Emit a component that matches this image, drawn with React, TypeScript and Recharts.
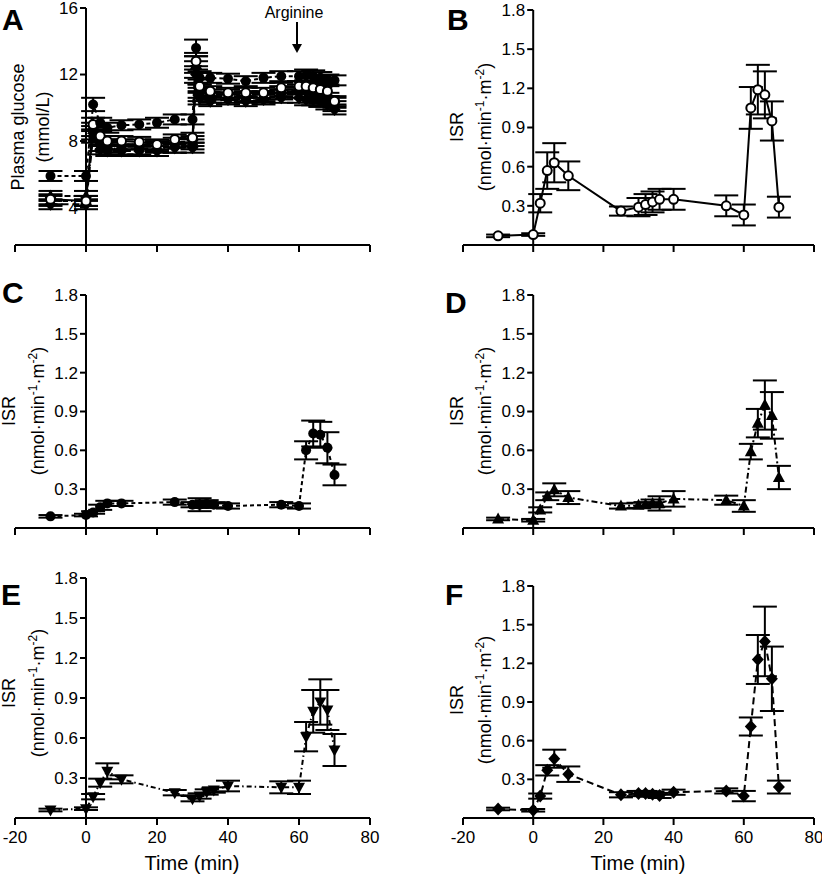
import {
  Customized,
  ErrorBar,
  Line,
  LineChart,
  ReferenceLine,
  XAxis,
  YAxis,
} from "recharts";

const FONT = '"Liberation Sans", Arial, Helvetica, sans-serif';

// ISR sampling times (min)
const isrTime = [-10, 0, 2, 4, 6, 10, 25, 30, 32, 34, 36, 40, 55, 60, 62, 64, 66, 68, 70];

const isrB = [0.07, 0.08, 0.32, 0.57, 0.63, 0.53, 0.26, 0.29, 0.31, 0.33, 0.35, 0.35, 0.3, 0.23, 1.05, 1.19, 1.15, 0.95, 0.29];
const errB = [0.01, 0.01, 0.07, 0.14, 0.15, 0.11, 0.035, 0.07, 0.08, 0.08, 0.08, 0.08, 0.08, 0.08, 0.16, 0.19, 0.18, 0.15, 0.08];

const isrC = [0.09, 0.1, 0.12, 0.16, 0.19, 0.19, 0.2, 0.18, 0.18, 0.185, 0.18, 0.17, 0.18, 0.17, 0.6, 0.73, 0.72, 0.62, 0.41];
const errC = [0.01, 0.01, 0.01, 0.02, 0.02, 0.02, 0.02, 0.02, 0.05, 0.03, 0.02, 0.02, 0.02, 0.02, 0.07, 0.1, 0.1, 0.12, 0.08];

const isrD = [0.07, 0.06, 0.14, 0.245, 0.295, 0.235, 0.17, 0.175, 0.18, 0.19, 0.19, 0.225, 0.215, 0.17, 0.59, 0.81, 0.95, 0.87, 0.39];
const errD = [0.01, 0.01, 0.02, 0.03, 0.05, 0.05, 0.02, 0.02, 0.02, 0.03, 0.055, 0.06, 0.035, 0.045, 0.06, 0.11, 0.19, 0.18, 0.09];

const isrE = [0.06, 0.07, 0.16, 0.265, 0.35, 0.29, 0.19, 0.145, 0.165, 0.195, 0.21, 0.24, 0.23, 0.23, 0.61, 0.8, 0.87, 0.81, 0.51];
const errE = [0.01, 0.01, 0.02, 0.03, 0.06, 0.03, 0.02, 0.02, 0.02, 0.02, 0.02, 0.04, 0.045, 0.05, 0.11, 0.16, 0.17, 0.15, 0.12];

const isrF = [0.07, 0.06, 0.17, 0.37, 0.46, 0.34, 0.18, 0.19, 0.19, 0.185, 0.175, 0.2, 0.21, 0.17, 0.71, 1.23, 1.37, 1.08, 0.24];
const errF = [0.01, 0.01, 0.02, 0.04, 0.07, 0.06, 0.02, 0.02, 0.02, 0.02, 0.02, 0.02, 0.02, 0.04, 0.07, 0.19, 0.27, 0.25, 0.05];

// plasma glucose (mmol/L)
const glucTime = [-10, 0, 2, 4, 6, 10, 15, 20, 25, 30, 31, 32, 35, 40, 45, 50, 55, 60, 62, 64, 66, 68, 70];
const glucC = [5.9, 5.9, 10.2, 9.1, 8.8, 8.95, 9.0, 9.1, 9.3, 9.3, 13.6, 11.8, 11.8, 11.75, 11.6, 11.8, 11.9, 11.9, 11.95, 11.9, 11.8, 11.7, 11.65];
const glucB = [4.5, 4.4, 9.0, 8.3, 8.0, 8.0, 7.95, 7.8, 8.1, 8.2, 12.8, 11.3, 11.0, 10.9, 10.9, 10.9, 11.2, 11.3, 11.3, 11.2, 11.1, 11.0, 10.4];
const glucD = [4.7, 4.7, 8.7, 8.0, 7.8, 7.8, 7.8, 7.7, 7.9, 8.0, 12.6, 11.0, 10.8, 10.8, 10.7, 10.7, 11.0, 11.1, 11.2, 11.0, 10.9, 10.6, 10.3];
const glucE = [4.4, 4.4, 8.5, 7.7, 7.6, 7.5, 7.5, 7.6, 7.6, 7.8, 12.3, 10.8, 10.6, 10.6, 10.6, 10.6, 10.8, 10.9, 10.9, 10.8, 10.6, 10.4, 10.1];
const glucF = [4.2, 4.2, 8.3, 7.5, 7.4, 7.4, 7.4, 7.4, 7.6, 7.6, 12.0, 10.6, 10.4, 10.5, 10.4, 10.5, 10.6, 10.6, 10.5, 10.5, 10.4, 10.2, 9.9];
const glucErr = [0.3, 0.3, 0.4, 0.3, 0.3, 0.3, 0.3, 0.3, 0.3, 0.3, 0.5, 0.4, 0.3, 0.3, 0.3, 0.3, 0.3, 0.3, 0.35, 0.35, 0.35, 0.3, 0.3];

const xTicks = [-20, 0, 20, 40, 60, 80];
const isrTicks = [0.3, 0.6, 0.9, 1.2, 1.5, 1.8];
const glucTicks = [4, 8, 12, 16];

type Shape = "filled" | "open" | "up" | "down" | "diamond";

interface SeriesDef {
  key: string;
  errKey: string;
  shape: Shape;
  dash?: string;
}

const renderDot = (shape: Shape, name: string) => (p: any) => {
  const { cx, cy, index } = p;
  const k = `${name}-${index}`;
  if (cx == null || cy == null) return <g key={k} />;
  switch (shape) {
    case "open":
      return <circle key={k} cx={cx} cy={cy} r={4.5} fill="#fff" stroke="#000" strokeWidth={2} />;
    case "filled":
      return <circle key={k} cx={cx} cy={cy} r={5} fill="#000" />;
    case "up":
      return <path key={k} d={`M${cx},${cy - 6.5}L${cx + 6},${cy + 4.5}L${cx - 6},${cy + 4.5}Z`} fill="#000" />;
    case "down":
      return <path key={k} d={`M${cx},${cy + 6.5}L${cx + 6},${cy - 4.5}L${cx - 6},${cy - 4.5}Z`} fill="#000" />;
    default:
      return <path key={k} d={`M${cx},${cy - 6.5}L${cx + 6},${cy}L${cx},${cy + 6.5}L${cx - 6},${cy}Z`} fill="#000" />;
  }
};

const yLabelIsr = (x1: number, x2: number, cy: number) => (
  <g fontFamily={FONT} fill="#000">
    <text transform={`translate(${x1},${cy}) rotate(-90)`} textAnchor="middle" dy="0.35em" fontSize={18}>
      ISR
    </text>
    <text transform={`translate(${x2},${cy}) rotate(-90)`} textAnchor="middle" dy="0.35em" fontSize={18}>
      (nmol·min<tspan dy={-7} fontSize={12}>-1</tspan>
      <tspan dy={7}>·m</tspan>
      <tspan dy={-7} fontSize={12}>-2</tspan>
      <tspan dy={7}>)</tspan>
    </text>
  </g>
);

const letter = (ch: string, x: number, y: number) => (
  <text x={x} y={y} fontFamily={FONT} fontWeight="bold" fontSize={30} fill="#000">
    {ch}
  </text>
);

const timeLabel = (x: number, y: number) => (
  <text x={x} y={y} dy="0.35em" textAnchor="middle" fontFamily={FONT} fontSize={20} fill="#000">
    Time (min)
  </text>
);

interface PanelProps {
  left: number;
  top: number;
  width: number;
  height: number;
  margin: { top: number; right: number; bottom: number; left: number };
  xAxisHeight: number;
  data: any[];
  series: SeriesDef[];
  yDomain: [number, number];
  yTicks: number[];
  yFmt: (v: number) => string;
  showXTicks: boolean;
  extras: JSX.Element;
}

const Panel = (props: PanelProps) => {
  const { left, top, width, height, margin, xAxisHeight, data, series, yDomain, yTicks, yFmt, showXTicks, extras } = props;
  // the y axis itself takes 1px, so the plot starts at margin.left + 1
  const plotLeft = margin.left + 1;
  const plotW = width - plotLeft - margin.right;
  const x0 = plotLeft + plotW * 0.2;

  const yTick = (p: any) => (
    <g>
      <line x1={x0 - 6} x2={x0} y1={p.y} y2={p.y} stroke="#000" strokeWidth={2} />
      <text x={x0 - 8} y={p.y} dy="0.35em" textAnchor="end" fontFamily={FONT} fontSize={17} fill="#000">
        {yFmt(p.payload.value)}
      </text>
    </g>
  );

  const xTick = (p: any) =>
    showXTicks ? (
      <text x={p.x} y={p.y + 4} dy="0.71em" textAnchor="middle" fontFamily={FONT} fontSize={17} fill="#000">
        {p.payload.value}
      </text>
    ) : (
      <g />
    );

  return (
    <div style={{ position: "absolute", left, top, width, height }}>
      <LineChart width={width} height={height} data={data} margin={margin}>
        <XAxis
          type="number"
          dataKey="t"
          domain={[-20, 80]}
          ticks={xTicks}
          height={xAxisHeight}
          axisLine={{ stroke: "#000", strokeWidth: 2 }}
          tickLine={{ stroke: "#000", strokeWidth: 2 }}
          tickSize={7}
          tick={xTick}
          allowDataOverflow
        />
        <YAxis
          type="number"
          domain={yDomain}
          ticks={yTicks}
          width={1}
          axisLine={false}
          tickLine={false}
          tick={yTick}
          interval={0}
          allowDataOverflow
        />
        <ReferenceLine x={0} stroke="#000" strokeWidth={2} />
        {series.map((s) => (
          <Line
            key={s.key}
            type="linear"
            dataKey={s.key}
            stroke="#000"
            strokeWidth={2}
            strokeDasharray={s.dash}
            dot={renderDot(s.shape, s.key)}
            activeDot={false}
            isAnimationActive={false}
          >
            <ErrorBar dataKey={s.errKey} width={12} strokeWidth={2} stroke="#000" direction="y" isAnimationActive={false} />
          </Line>
        ))}
        <Customized component={() => extras} />
      </LineChart>
    </div>
  );
};

const isrData = (vals: number[], errs: number[]) =>
  isrTime.map((t, i) => ({ t, v: vals[i], e: errs[i] }));

const glucData = glucTime.map((t, i) => ({
  t,
  c: glucC[i],
  b: glucB[i],
  d: glucD[i],
  e: glucE[i],
  f: glucF[i],
  err: glucErr[i],
}));

const fmtIsr = (v: number) => v.toFixed(1);
const fmtGluc = (v: number) => String(v);

const LEFT = { width: 400, left: 14, right: 30 };
const RIGHT = { width: 422, left: 62, right: 8 };

export default function App() {
  return (
    <div style={{ position: "absolute", left: 0, top: 0, width: 822, height: 874, background: "#fff" }}>
      {/* A */}
      <Panel
        left={0}
        top={0}
        width={LEFT.width}
        height={280}
        margin={{ top: 8, right: LEFT.right, bottom: 5, left: LEFT.left }}
        xAxisHeight={30}
        data={glucData}
        series={[
          { key: "f", errKey: "err", shape: "diamond", dash: "7 4" },
          { key: "e", errKey: "err", shape: "down", dash: "5 3 1.5 3" },
          { key: "d", errKey: "err", shape: "up", dash: "6 3 2 3" },
          { key: "b", errKey: "err", shape: "open" },
          { key: "c", errKey: "err", shape: "filled", dash: "4 3" },
        ]}
        yDomain={[1.75, 16]}
        yTicks={glucTicks}
        yFmt={fmtGluc}
        showXTicks={false}
        extras={
          <g>
            {letter("A", 2, 30)}
            <g fontFamily={FONT} fill="#000" fontSize={18}>
              <text transform="translate(18,127) rotate(-90)" textAnchor="middle" dy="0.35em">
                Plasma glucose
              </text>
              <text transform="translate(43,127) rotate(-90)" textAnchor="middle" dy="0.35em">
                (mmol/L)
              </text>
            </g>
            <text x={294} y={18} textAnchor="middle" fontFamily={FONT} fontSize={16} fill="#000">
              Arginine
            </text>
            <line x1={297} x2={297} y1={22} y2={46} stroke="#000" strokeWidth={2} />
            <path d="M292,44L302,44L297,53Z" fill="#000" />
          </g>
        }
      />
      {/* B */}
      <Panel
        left={400}
        top={0}
        width={RIGHT.width}
        height={280}
        margin={{ top: 10, right: RIGHT.right, bottom: 5, left: RIGHT.left }}
        xAxisHeight={30}
        data={isrData(isrB, errB)}
        series={[{ key: "v", errKey: "e", shape: "open" }]}
        yDomain={[0, 1.8]}
        yTicks={isrTicks}
        yFmt={fmtIsr}
        showXTicks={false}
        extras={
          <g>
            {letter("B", 47, 30)}
            {yLabelIsr(57, 85, 127)}
          </g>
        }
      />
      {/* C */}
      <Panel
        left={0}
        top={270}
        width={LEFT.width}
        height={300}
        margin={{ top: 25, right: LEFT.right, bottom: 12, left: LEFT.left }}
        xAxisHeight={30}
        data={isrData(isrC, errC)}
        series={[{ key: "v", errKey: "e", shape: "filled", dash: "4 3" }]}
        yDomain={[0, 1.8]}
        yTicks={isrTicks}
        yFmt={fmtIsr}
        showXTicks={false}
        extras={
          <g>
            {letter("C", 2, 33)}
            {yLabelIsr(9, 38, 141)}
          </g>
        }
      />
      {/* D */}
      <Panel
        left={400}
        top={270}
        width={RIGHT.width}
        height={300}
        margin={{ top: 25, right: RIGHT.right, bottom: 12, left: RIGHT.left }}
        xAxisHeight={30}
        data={isrData(isrD, errD)}
        series={[{ key: "v", errKey: "e", shape: "up", dash: "6 3 2 3" }]}
        yDomain={[0, 1.8]}
        yTicks={isrTicks}
        yFmt={fmtIsr}
        showXTicks={false}
        extras={
          <g>
            {letter("D", 45, 43)}
            {yLabelIsr(57, 85, 141)}
          </g>
        }
      />
      {/* E */}
      <Panel
        left={0}
        top={560}
        width={LEFT.width}
        height={314}
        margin={{ top: 18, right: LEFT.right, bottom: 6, left: LEFT.left }}
        xAxisHeight={50}
        data={isrData(isrE, errE)}
        series={[{ key: "v", errKey: "e", shape: "down", dash: "5 3 1.5 3" }]}
        yDomain={[0, 1.8]}
        yTicks={isrTicks}
        yFmt={fmtIsr}
        showXTicks={true}
        extras={
          <g>
            {letter("E", 1, 45)}
            {yLabelIsr(9, 38, 133)}
            {timeLabel(192, 303)}
          </g>
        }
      />
      {/* F */}
      <Panel
        left={400}
        top={560}
        width={RIGHT.width}
        height={314}
        margin={{ top: 26, right: RIGHT.right, bottom: 6, left: RIGHT.left }}
        xAxisHeight={50}
        data={isrData(isrF, errF)}
        series={[{ key: "v", errKey: "e", shape: "diamond", dash: "7 4" }]}
        yDomain={[0, 1.8]}
        yTicks={isrTicks}
        yFmt={fmtIsr}
        showXTicks={true}
        extras={
          <g>
            {letter("F", 45, 45)}
            {yLabelIsr(57, 85, 140)}
            {timeLabel(238, 303)}
          </g>
        }
      />
    </div>
  );
}
